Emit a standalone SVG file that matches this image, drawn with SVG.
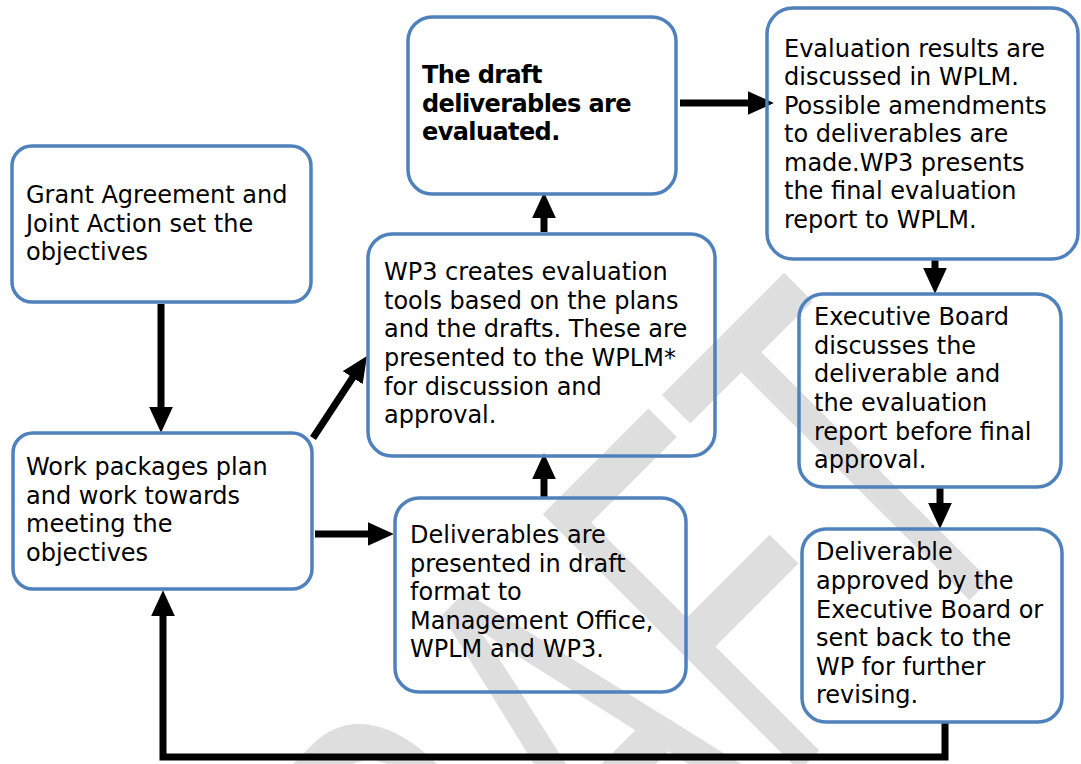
<svg xmlns="http://www.w3.org/2000/svg" width="1081" height="764" viewBox="0 0 1081 764">
  <style>
    .box { fill: none; stroke: #4f81bd; stroke-width: 3.5; }
    .lbl { font-family: "DejaVu Sans", Verdana, sans-serif; font-size: 24px; fill: #000; }
    .bold { font-weight: bold; letter-spacing: -0.6px; }
    .wire { fill: none; stroke: #000; stroke-width: 7; stroke-linejoin: miter; }
    .mark { font-family: "Liberation Sans", Arial, sans-serif; font-size: 527px; fill: #dedede; }
  </style>
  <defs>
    <marker id="head" markerUnits="userSpaceOnUse" markerWidth="26" markerHeight="24" viewBox="0 0 24 22" refX="14" refY="11" orient="auto">
      <path d="M0,0 L24,11 L0,22 z" fill="#000"/>
    </marker>
  </defs>

  <rect width="1081" height="764" fill="#fff"/>

  <!-- diagonal watermark -->
  <text class="mark" x="-1121" y="1110" transform="rotate(-45) scale(0.58 1)">DRAFT</text>

  <g id="connectors">
    <line class="wire" x1="161" y1="304" x2="161" y2="422" marker-end="url(#head)"/>
    <line class="wire" x1="313" y1="438" x2="361" y2="365" marker-end="url(#head)"/>
    <line class="wire" x1="315" y1="534" x2="383" y2="534" marker-end="url(#head)"/>
    <line class="wire" x1="544" y1="498" x2="544" y2="464" marker-end="url(#head)"/>
    <line class="wire" x1="544" y1="232" x2="544" y2="203" marker-end="url(#head)"/>
    <line class="wire" x1="680" y1="103" x2="763" y2="103" marker-end="url(#head)"/>
    <line class="wire" x1="935" y1="260" x2="935" y2="283" marker-end="url(#head)"/>
    <line class="wire" x1="940" y1="488" x2="940" y2="518" marker-end="url(#head)"/>
    <polyline class="wire" points="945,723 945,757 163,757 163,601" marker-end="url(#head)"/>
  </g>

  <g id="grant">
    <rect class="box" x="12" y="146" width="299" height="156" rx="20"/>
    <text class="lbl" x="26" y="203">Grant Agreement and</text>
    <text class="lbl" x="26" y="232">Joint Action set the</text>
    <text class="lbl" x="26" y="260">objectives</text>
  </g>

  <g id="work-packages">
    <rect class="box" x="13" y="433" width="299" height="156" rx="20"/>
    <text class="lbl" x="26" y="475">Work packages plan</text>
    <text class="lbl" x="26" y="504">and work towards</text>
    <text class="lbl" x="26" y="532">meeting the</text>
    <text class="lbl" x="26" y="561">objectives</text>
  </g>

  <g id="eval-tools">
    <rect class="box" x="368" y="234" width="347" height="222" rx="24"/>
    <text class="lbl" x="384" y="280">WP3 creates evaluation</text>
    <text class="lbl" x="384" y="309">tools based on the plans</text>
    <text class="lbl" x="384" y="337">and the drafts. These are</text>
    <text class="lbl" x="384" y="366">presented to the WPLM*</text>
    <text class="lbl" x="384" y="395">for discussion and</text>
    <text class="lbl" x="384" y="423">approval.</text>
  </g>

  <g id="evaluated">
    <rect class="box" x="408" y="17" width="268" height="177" rx="24"/>
    <text class="lbl bold" x="422" y="83">The draft</text>
    <text class="lbl bold" x="422" y="112">deliverables are</text>
    <text class="lbl bold" x="422" y="140">evaluated.</text>
  </g>

  <g id="results">
    <rect class="box" x="767" y="8" width="311" height="251" rx="26"/>
    <text class="lbl" x="784" y="57">Evaluation results are</text>
    <text class="lbl" x="784" y="85">discussed in WPLM.</text>
    <text class="lbl" x="784" y="114">Possible amendments</text>
    <text class="lbl" x="784" y="142">to deliverables are</text>
    <text class="lbl" x="784" y="171">made.WP3 presents</text>
    <text class="lbl" x="784" y="199">the final evaluation</text>
    <text class="lbl" x="784" y="228">report to WPLM.</text>
  </g>

  <g id="executive-board">
    <rect class="box" x="799" y="294" width="262" height="193" rx="24"/>
    <text class="lbl" x="814" y="325">Executive Board</text>
    <text class="lbl" x="814" y="354">discusses the</text>
    <text class="lbl" x="814" y="382">deliverable and</text>
    <text class="lbl" x="814" y="411">the evaluation</text>
    <text class="lbl" x="814" y="440">report before final</text>
    <text class="lbl" x="814" y="468">approval.</text>
  </g>

  <g id="approval">
    <rect class="box" x="802" y="529" width="260" height="193" rx="24"/>
    <text class="lbl" x="816" y="560">Deliverable</text>
    <text class="lbl" x="816" y="589">approved by the</text>
    <text class="lbl" x="816" y="618">Executive Board or</text>
    <text class="lbl" x="816" y="646">sent back to the</text>
    <text class="lbl" x="816" y="675">WP for further</text>
    <text class="lbl" x="816" y="703">revising.</text>
  </g>

  <g id="drafts">
    <rect class="box" x="395" y="498" width="291" height="194" rx="24"/>
    <text class="lbl" x="410" y="543">Deliverables are</text>
    <text class="lbl" x="410" y="572">presented in draft</text>
    <text class="lbl" x="410" y="600">format to</text>
    <text class="lbl" x="410" y="629">Management Office,</text>
    <text class="lbl" x="410" y="657">WPLM and WP3.</text>
  </g>
</svg>
